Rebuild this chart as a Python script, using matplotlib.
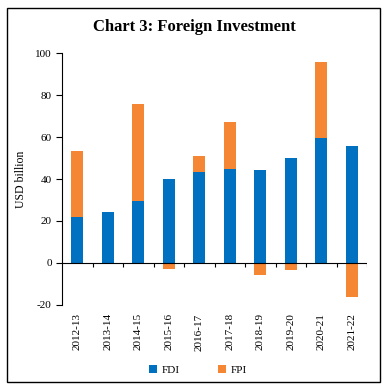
import matplotlib.pyplot as plt
import matplotlib.patches as mpatches
import numpy as np

years = ['2012-13', '2013-14', '2014-15', '2015-16', '2016-17',
         '2017-18', '2018-19', '2019-20', '2020-21', '2021-22']
fdi = [22.0, 24.1, 29.5, 39.9, 43.2, 44.8, 44.3, 49.8, 59.7, 55.5]
fpi = [31.5, 0.0, 46.1, -2.9, 7.6, 22.3, -5.7, -3.3, 36.2, -16.3]

blue = '#0070C0'
orange = '#F58634'

plt.rcParams['font.family'] = ['Liberation Serif', 'DejaVu Serif']
plt.rcParams['axes.unicode_minus'] = False

fig = plt.figure(figsize=(3.88, 3.90), dpi=100)
ax = fig.add_axes([0.160, 0.218, 0.786, 0.646])

x = np.arange(len(years))
fdi = np.array(fdi)
fpi = np.array(fpi)
# positive FPI stacks on FDI, negative FPI hangs below zero
fpi_bottom = np.where(fpi >= 0, fdi, 0)

ax.bar(x, fdi, width=0.4, color=blue, label='FDI', zorder=2)
ax.bar(x, fpi, width=0.4, bottom=fpi_bottom, color=orange, label='FPI', zorder=2)

ax.set_xlim(-0.5, len(years) - 0.5)
ax.set_ylim(-20, 100)
ax.set_yticks(range(-20, 101, 20))
ax.tick_params(axis='y', direction='out', length=4, labelsize=8, width=0.8)

ax.set_xticks(x)
ax.set_xticklabels(years, rotation=90, fontsize=8)
ax.tick_params(axis='x', length=0, pad=6)

for s in ['top', 'right', 'bottom']:
    ax.spines[s].set_visible(False)
ax.spines['left'].set_linewidth(0.8)

# zero line with small category-boundary ticks
ax.axhline(0, color='black', lw=0.8, zorder=3)
bounds = np.arange(len(years)) + 0.5
ax.vlines(bounds, -1.8, 0, color='black', lw=0.8, zorder=3)

ax.set_ylabel('USD billion', fontsize=8.5, labelpad=6)

fig.text(0.5, 0.932, 'Chart 3: Foreign Investment', ha='center', va='center',
         fontsize=12, fontweight='bold')

fig.legend(loc='center', bbox_to_anchor=(0.51, 0.052), ncol=2, frameon=False,
           fontsize=8, handlelength=0.7, handleheight=0.7, handletextpad=0.4,
           columnspacing=3.5)

fig.patches.append(mpatches.Rectangle((7 / 388, 8 / 390), 373 / 388, 374 / 390,
                                      transform=fig.transFigure, fill=False,
                                      edgecolor='black', lw=1.0))

fig.savefig('out.png', dpi=100)
